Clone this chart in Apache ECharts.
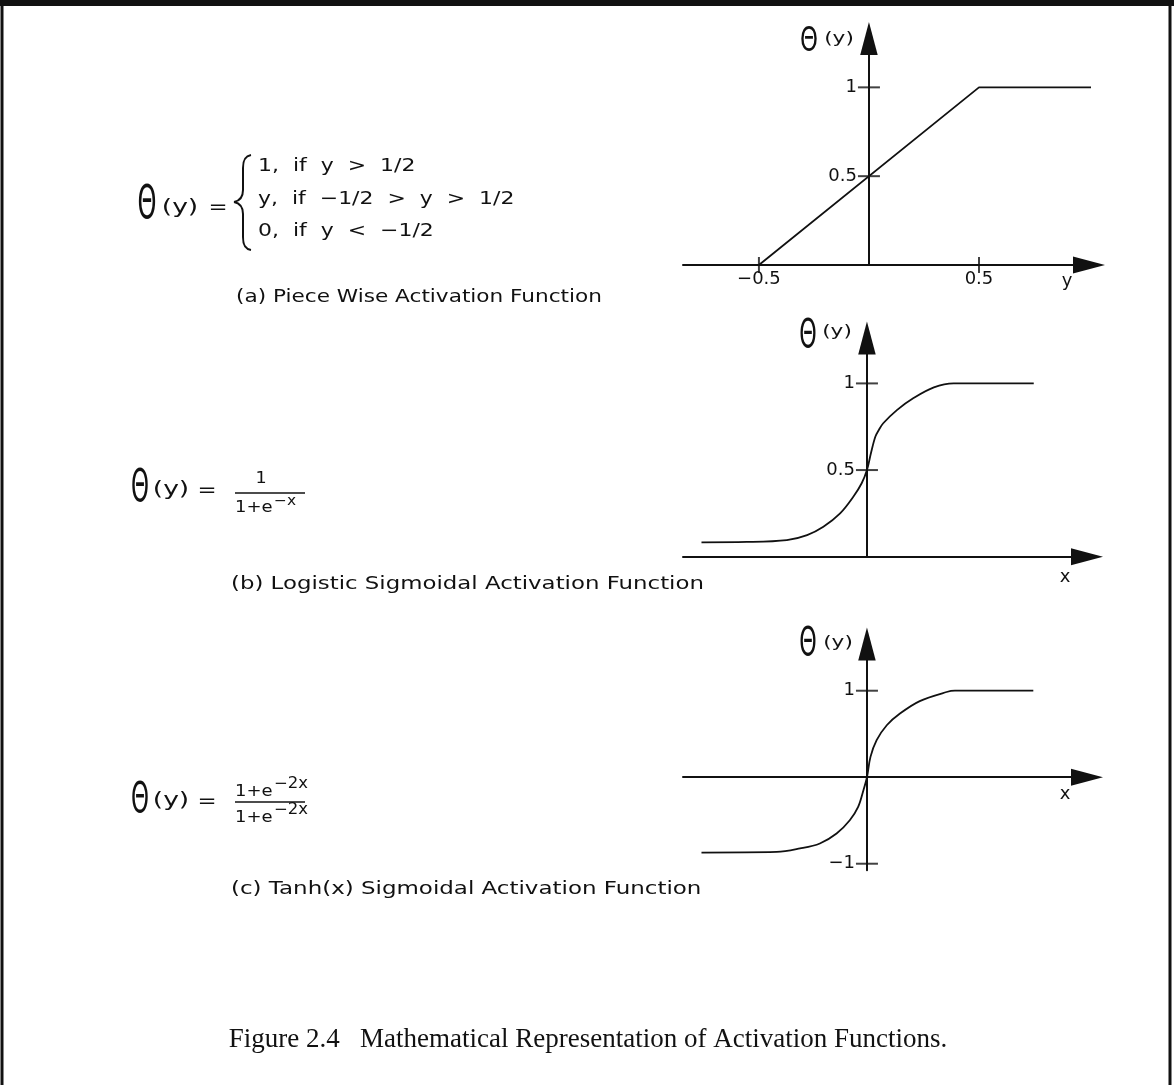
<!DOCTYPE html>
<html>
<head>
<meta charset="utf-8">
<style>
  html, body { margin: 0; padding: 0; background: #fff; }
  #chart { width: 1174px; height: 1085px; }
</style>
<script src="https://cdn.jsdelivr.net/npm/echarts@6/dist/echarts.min.js"></script>
</head>
<body>
<div id="chart"></div>
<script>
// (a) piece-wise linear activation
const pieceX = [-0.5, 0.5, 1.06];
const pieceY = [0, 1, 1];
const pieceXTicks = [-0.5, 0.5];
const pieceYTicks = [0.5, 1];

// (b) logistic sigmoid
const logisticX = [-3.76, -2.73, -1.82, -1.36, -0.99, -0.61, -0.31, -0.12, 0, 0.09, 0.19, 0.27, 0.37, 0.68, 1.05, 1.52, 1.97, 3.79];
const logisticY = [0.083, 0.085, 0.096, 0.125, 0.173, 0.25, 0.346, 0.424, 0.5, 0.597, 0.692, 0.731, 0.77, 0.846, 0.914, 0.977, 1.0, 1.0];
const logisticYTicks = [0.5, 1];

// (c) tanh sigmoid
const tanhX = [-3.76, -2.05, -1.52, -1.07, -0.69, -0.39, -0.2, -0.08, 0, 0.08, 0.22, 0.45, 0.75, 1.2, 1.81, 2.0, 3.78];
const tanhY = [-0.871, -0.864, -0.824, -0.766, -0.651, -0.497, -0.343, -0.15, 0, 0.235, 0.428, 0.601, 0.736, 0.88, 0.985, 1.0, 1.0];
const tanhYTicks = [-1, 1];

const INK = '#111';
const SANS = '"DejaVu Sans"';
const fmt = v => String(v).replace('-', '\u2212');
const pairs = (xs, ys) => xs.map((x, i) => [x, ys[i]]);

// plot boxes and their value ranges
const grids = [
  { left: 683, top: 38.5, width: 406, height: 226.5 },
  { left: 683, top: 338, width: 404, height: 218.7 },
  { left: 683, top: 644, width: 404, height: 226.2 }
];
const xRanges = [[-0.845, 1.0], [-4.18, 5.0], [-4.18, 5.0]];
const yRanges = [[0, 1.275], [0, 1.262], [-1.075, 1.54]];

function axisLine(isX) {
  return {
    show: true, onZero: isX,
    symbol: ['none', 'triangle'],
    symbolSize: isX ? [17, 32] : [17.5, 33],
    lineStyle: { color: INK, width: 2 }
  };
}

function labelCfg(values, margin) {
  return values ? {
    show: true, customValues: values, formatter: fmt,
    color: INK, fontFamily: 'DejaVu Sans', fontSize: 18, margin
  } : { show: false };
}

function xAxisCfg(i, labels) {
  return {
    type: 'value', gridIndex: i, min: xRanges[i][0], max: xRanges[i][1],
    axisLine: axisLine(true), axisTick: { show: false }, splitLine: { show: false },
    axisLabel: labelCfg(labels, 5)
  };
}

// vertical axis sits where x = 0
function yAxisCfg(i, labels) {
  const [x0, x1] = xRanges[i];
  const shift = (0 - x0) / (x1 - x0) * grids[i].width;
  return {
    type: 'value', gridIndex: i, position: 'left', offset: -shift,
    min: yRanges[i][0], max: yRanges[i][1],
    axisLine: axisLine(false), axisTick: { show: false }, splitLine: { show: false },
    axisLabel: labelCfg(labels, 12)
  };
}

function curve(idx, data, smooth) {
  return {
    type: 'line', xAxisIndex: idx, yAxisIndex: idx, data,
    showSymbol: false, smooth, clip: false,
    lineStyle: { color: INK, width: 1.8 }, silent: true, animation: false
  };
}

// short marks straddling the axis line at each tick value
function tickMarks(idx, data, size) {
  return {
    type: 'scatter', xAxisIndex: idx, yAxisIndex: idx, data,
    symbol: 'rect', symbolSize: size, itemStyle: { color: INK },
    silent: true, clip: false, animation: false, z: 3
  };
}

function label(x, y, text, size, sx, align, family) {
  align = align || 'left';
  return {
    type: 'text', x, y, scaleX: sx || 1, silent: true,
    style: {
      text, font: size + 'px ' + (family || SANS), fill: INK, textFill: INK,
      align, textAlign: align, verticalAlign: 'middle', textVerticalAlign: 'middle'
    }
  };
}

// tall, narrow capital theta
function theta(x, y, h, w) {
  const size = h / 0.729;
  return label(x, y, '\u0398', size, w / (0.787 * size), 'center');
}

function seg(x1, y1, x2, y2, w) {
  return { type: 'line', silent: true, shape: { x1, y1, x2, y2 }, style: { stroke: INK, lineWidth: w || 1.5 } };
}
function bez(x1, y1, cpx1, cpy1, cpx2, cpy2, x2, y2) {
  return { type: 'bezierCurve', silent: true, shape: { x1, y1, cpx1, cpy1, cpx2, cpy2, x2, y2 }, style: { stroke: INK, lineWidth: 2, fill: 'none' } };
}

const graphics = [
  // page frame
  { type: 'rect', silent: true, shape: { x: 2, y: 3, width: 1168, height: 1200 }, style: { stroke: INK, lineWidth: 3, fill: 'none' } },
  seg(0, 3, 1174, 3, 6),

  // (a) formula
  theta(147, 206, 34, 19),
  label(180, 208, '(y)', 19, 1.4, 'center'),
  label(218, 208, '=', 19, 1.2, 'center'),
  bez(251, 155, 245, 156, 243, 160, 243, 168),
  seg(243, 168, 243, 190, 2),
  bez(243, 190, 243, 197, 239, 201, 234, 202),
  bez(234, 202, 239, 203, 243, 207, 243, 214),
  seg(243, 214, 243, 237, 2),
  bez(243, 237, 243, 245, 245, 249, 251, 250),
  label(258, 166, '1,  if  y  >  1/2', 18, 1.22),
  label(258, 199, 'y,  if  \u22121/2  >  y  >  1/2', 18, 1.22),
  label(258, 231, '0,  if  y  <  \u22121/2', 18, 1.22),
  label(236, 297, '(a) Piece Wise Activation Function', 18, 1.2),

  // (b) formula
  theta(140, 490, 32, 18),
  label(171, 490, '(y)', 19, 1.4, 'center'),
  label(207, 491, '=', 19, 1.2, 'center'),
  label(261, 479, '1', 16, 1.1, 'center'),
  seg(235, 493, 305, 493, 1.5),
  label(235, 508, '1+e', 15, 1.2),
  label(274, 501, '\u2212x', 14, 1.1),
  label(231, 584, '(b) Logistic Sigmoidal Activation Function', 18, 1.27),

  // (c) formula
  theta(140, 801, 31, 18),
  label(171, 801, '(y)', 19, 1.4, 'center'),
  label(207, 802, '=', 19, 1.2, 'center'),
  label(235, 792, '1+e', 15, 1.2),
  label(274, 784, '\u22122x', 15, 1.1),
  seg(235, 802, 305, 802, 1.5),
  label(235, 818, '1+e', 15, 1.2),
  label(274, 810, '\u22122x', 15, 1.1),
  label(231, 889, '(c) Tanh(x) Sigmoidal Activation Function', 18, 1.275),

  // axis names
  theta(809, 42, 25, 18),
  label(839, 39, '(y)', 16, 1.35, 'center'),
  theta(808, 337, 28, 17.5),
  label(837, 332, '(y)', 16, 1.35, 'center'),
  theta(808, 645, 29, 17.5),
  label(838, 643, '(y)', 16, 1.35, 'center'),
  label(1067, 281, 'y', 18, 1, 'center'),
  label(1065, 577, 'x', 18, 1, 'center'),
  label(1065, 794, 'x', 18, 1, 'center'),

  // figure caption
  label(588, 1040, 'Figure 2.4   Mathematical Representation of Activation Functions.', 27, 1, 'center', '"Liberation Serif"')
];

const option = {
  animation: false,
  backgroundColor: '#fff',
  grid: grids.map(g => Object.assign({ containLabel: false, outerBoundsMode: 'none' }, g)),
  xAxis: [xAxisCfg(0, pieceXTicks), xAxisCfg(1, null), xAxisCfg(2, null)],
  yAxis: [yAxisCfg(0, pieceYTicks), yAxisCfg(1, logisticYTicks), yAxisCfg(2, tanhYTicks)],
  series: [
    curve(0, pairs(pieceX, pieceY), false),
    tickMarks(0, pieceYTicks.map(v => [0, v]), [22, 2]),
    tickMarks(0, pieceXTicks.map(v => [v, 0]), [2, 16]),
    curve(1, pairs(logisticX, logisticY), 0.35),
    tickMarks(1, logisticYTicks.map(v => [0, v]), [22, 2]),
    curve(2, pairs(tanhX, tanhY), 0.35),
    tickMarks(2, tanhYTicks.map(v => [0, v]), [22, 2])
  ],
  graphic: graphics
};

const chart = echarts.init(document.getElementById('chart'));
chart.setOption(option);
</script>
</body>
</html>
